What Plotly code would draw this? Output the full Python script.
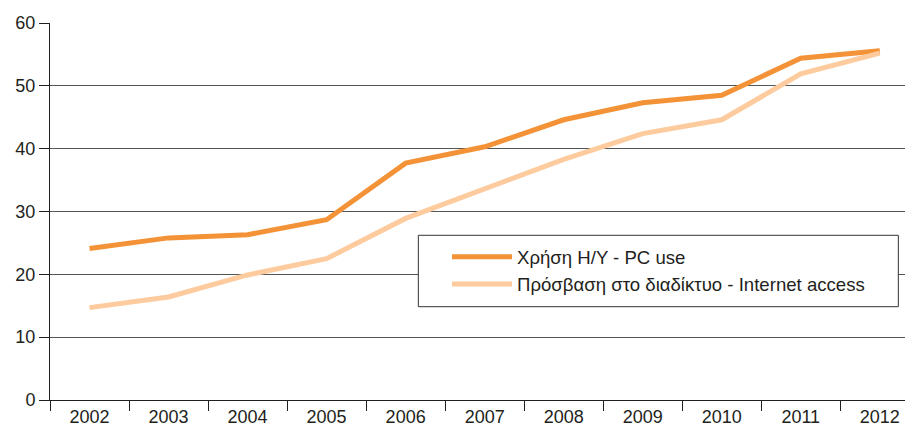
import plotly.graph_objects as go

years = ["2002", "2003", "2004", "2005", "2006", "2007", "2008", "2009", "2010", "2011", "2012"]
pc_use = [24.1, 25.8, 26.3, 28.7, 37.7, 40.3, 44.6, 47.3, 48.5, 54.4, 55.6]
internet_access = [14.7, 16.4, 19.9, 22.5, 28.9, 33.5, 38.3, 42.4, 44.6, 51.9, 55.2]

pc_name = "Χρήση Η/Υ - PC use"
net_name = "Πρόσβαση στο διαδίκτυο - Internet access"

font_family = "Liberation Sans, Arial, sans-serif"
text_color = "#231f20"

fig = go.Figure()
fig.add_trace(go.Scatter(x=years, y=pc_use, mode="lines", name=pc_name,
                         line=dict(color="#F39237", width=5)))
fig.add_trace(go.Scatter(x=years, y=internet_access, mode="lines", name=net_name,
                         line=dict(color="#FDCB9E", width=5)))

# legend frame drawn as a white box so it can be wider than plotly's own
fig.add_shape(type="rect", xref="paper", yref="paper",
              x0=0.4268, x1=0.983, y0=0.2475, y1=0.4369,
              line=dict(color="#333333", width=1), fillcolor="white", layer="above")

# the page puts the figure 8px in from the top-left corner, so the
# margins are trimmed by that much to keep the axes where they belong
fig.update_layout(
    width=905, height=428,
    margin=dict(l=42, r=0, t=15, b=36),
    plot_bgcolor="white", paper_bgcolor="white",
    font=dict(family=font_family, size=18, color=text_color),
    legend=dict(x=0.460, y=0.429, xanchor="left", yanchor="top",
                borderwidth=0, bgcolor="rgba(0,0,0,0)",
                font=dict(size=18.6), itemwidth=60, tracegroupgap=0),
    showlegend=True,
)
fig.update_xaxes(
    type="category", range=[-0.5, 10.42],
    showgrid=False, showline=True, linecolor="#231f20", linewidth=1,
    ticks="outside", tickson="boundaries", ticklen=10, tickcolor="#231f20",
    tickfont=dict(size=18),
)
fig.update_yaxes(
    range=[0, 60], dtick=10,
    showgrid=True, gridcolor="#555555", gridwidth=1,
    showline=True, linecolor="#231f20", linewidth=1,
    ticks="outside", ticklen=10, tickcolor="#231f20",
    tickfont=dict(size=18), zeroline=False,
)

fig.write_html("out.html")
